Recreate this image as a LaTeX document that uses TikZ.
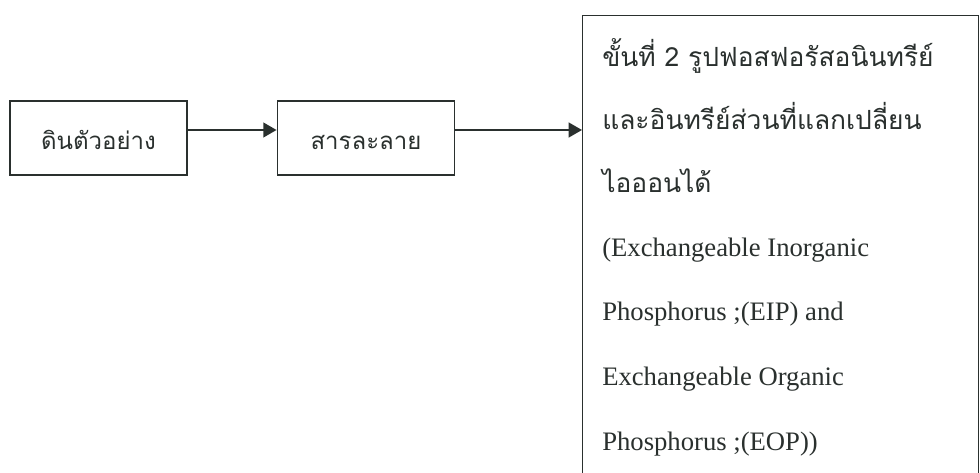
\documentclass[tikz,border=0pt]{standalone}
\usepackage{fontspec}
\setmainfont{Liberation Serif}
\newfontfamily\thaifont[Script=Thai]{Loma}
\usetikzlibrary{arrows.meta}
\definecolor{ink}{HTML}{2A302E}
\tikzset{
  box/.style={draw=ink, line width=1.1pt, minimum width=133pt, minimum height=55.5pt, inner sep=0pt},
  boxtext/.style={text=ink, font=\thaifont\fontsize{18}{21}\selectfont},
  arr/.style={draw=ink, line width=1.7pt, -{Triangle[length=10pt,width=11pt]}},
  line/.style={anchor=base west, inner sep=0pt, text=ink},
  thl/.style={line, font=\thaifont\fontsize{19.8}{23}\selectfont},
  enl/.style={line, font=\fontsize{20}{24}\selectfont},
}
\begin{document}
\begin{tikzpicture}[x=0.75pt,y=-0.75pt]
\path[use as bounding box, clip] (0,0) rectangle (980,473);
\fill[white] (0,0) rectangle (980,473);
\node[box] (a) at (98.5,138) {};
\node[boxtext, anchor=base] (at) at (98.5,150) {ดินตัวอย่าง};
\node[box] (b) at (366,138) {};
\node[boxtext, anchor=base] (bt) at (366,150) {สารละลาย};
\node[draw=ink, line width=1.1pt, anchor=north west, minimum width=297pt, minimum height=400pt, inner sep=0pt] (c) at (582,15) {};
\node[thl] (l1) at (602,67) {ขั้นที่ 2 รูปฟอสฟอรัสอนินทรีย์};
\node[thl] (l2) at (602,130) {และอินทรีย์ส่วนที่แลกเปลี่ยน};
\node[thl] (l3) at (602,193) {ไอออนได้};
\node[enl] (l4) at (602,257) {(Exchangeable Inorganic};
\node[enl] (l5) at (602,321) {Phosphorus ;(EIP) and};
\node[enl] (l6) at (602,385) {Exchangeable Organic};
\node[enl] (l7) at (602,450) {Phosphorus ;(EOP))};
\draw[arr] (a.east |- 0,130) -- (b.west |- 0,130);
\draw[arr] (b.east |- 0,130) -- (c.west |- 0,130);
\end{tikzpicture}
\end{document}
